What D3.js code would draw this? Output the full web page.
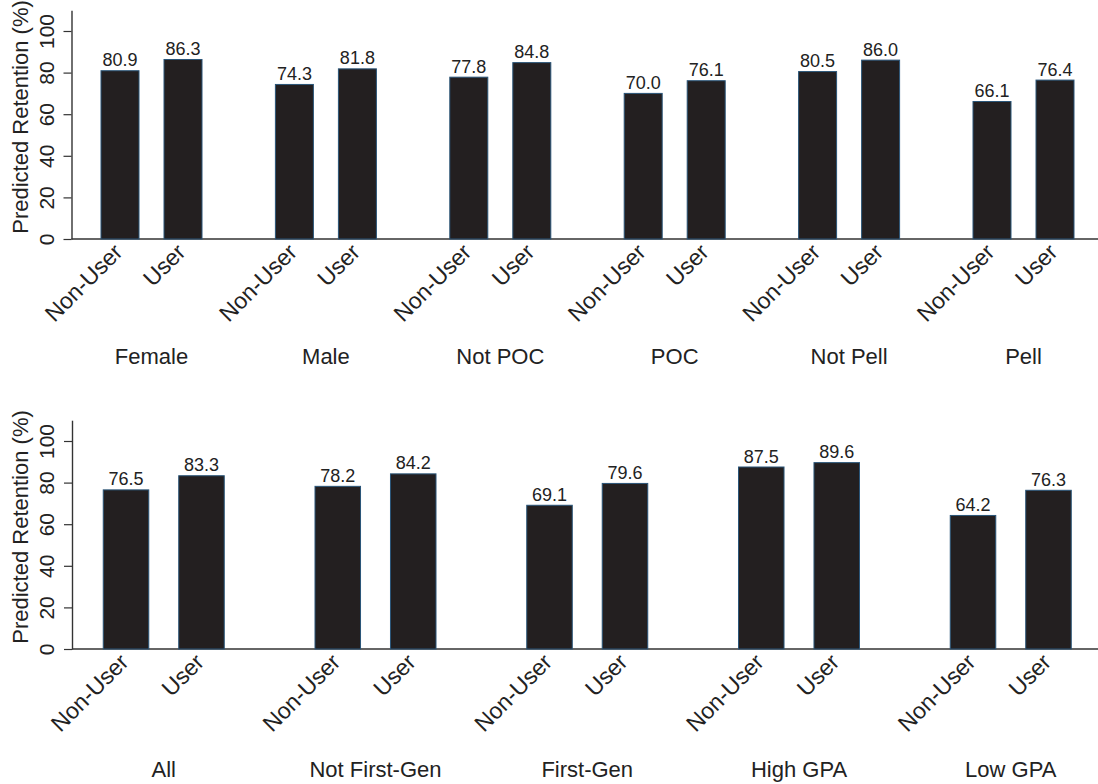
<!DOCTYPE html>
<html>
<head>
<meta charset="utf-8">
<script src="https://cdn.jsdelivr.net/npm/d3@7"></script>
<style>
  html, body { margin: 0; padding: 0; background: #fff; }
  svg { display: block; font-family: "Liberation Sans", Arial, Helvetica, sans-serif; }
</style>
</head>
<body>
<svg id="chart" width="1098" height="784"></svg>
<script>
// ---- data ----
const userTypes = ["Non-User", "User"];
const yTicks = [0, 20, 40, 60, 80, 100];

const topGroups = ["Female", "Male", "Not POC", "POC", "Not Pell", "Pell"];
const topNonUser = [80.9, 74.3, 77.8, 70.0, 80.5, 66.1];
const topUser = [86.3, 81.8, 84.8, 76.1, 86.0, 76.4];

const bottomGroups = ["All", "Not First-Gen", "First-Gen", "High GPA", "Low GPA"];
const bottomNonUser = [76.5, 78.2, 69.1, 87.5, 64.2];
const bottomUser = [83.3, 84.2, 79.6, 89.6, 76.3];

const yLabel = "Predicted Retention (%)";

// ---- drawing ----
const svg = d3.select("#chart");
const fmt = d3.format(".1f");
const W = 1098;

function panel(cfg) {
  const g = svg.append("g");
  const y = d3.scaleLinear().domain([0, 110]).range([cfg.y0, cfg.y0 - 110 * cfg.unit]);
  const gx = d3.scalePoint().domain(cfg.groups).range(cfg.groupRange);
  const bx = d3.scaleBand().domain(userTypes).range([-cfg.inner / 2, cfg.inner / 2]).paddingInner(0.397).paddingOuter(0);

  const rows = cfg.groups.map((grp, i) => ({
    group: grp,
    bars: [
      { type: "Non-User", value: cfg.nonUser[i] },
      { type: "User", value: cfg.user[i] }
    ]
  }));

  // x axis line
  g.append("line")
    .attr("x1", cfg.axisX).attr("x2", W)
    .attr("y1", y(0)).attr("y2", y(0))
    .attr("stroke", "#333").attr("stroke-width", 1.4);

  const grp = g.selectAll("g.grp").data(rows).join("g")
    .attr("class", "grp")
    .attr("transform", d => `translate(${gx(d.group)},0)`);

  grp.selectAll("rect").data(d => d.bars).join("rect")
    .attr("x", d => bx(d.type))
    .attr("width", bx.bandwidth())
    .attr("y", d => y(d.value))
    .attr("height", d => y(0) - y(d.value))
    .attr("fill", "#231f20")
    .attr("stroke", "#2a5578")
    .attr("stroke-width", 1);

  grp.selectAll("text.val").data(d => d.bars).join("text")
    .attr("class", "val")
    .attr("x", d => bx(d.type) + bx.bandwidth() / 2)
    .attr("y", d => y(d.value) - 4.5)
    .attr("text-anchor", "middle")
    .attr("font-size", 18)
    .attr("fill", "#222")
    .text(d => fmt(d.value));

  grp.selectAll("text.xt").data(d => d.bars).join("text")
    .attr("class", "xt")
    .attr("text-anchor", "end")
    .attr("font-size", 23)
    .attr("fill", "#222")
    .attr("transform", d => `translate(${bx(d.type) + bx.bandwidth() / 2 + 4},${y(0) + 14.5}) rotate(-45)`)
    .text(d => d.type);

  grp.append("text")
    .attr("class", "cat")
    .attr("x", 0)
    .attr("y", y(0) + cfg.catDy)
    .attr("text-anchor", "middle")
    .attr("font-size", 22)
    .attr("fill", "#222")
    .text(d => d.group);

  // y axis
  const axis = d3.axisLeft(y).tickValues(yTicks).tickSize(8).tickSizeOuter(0);
  const ag = g.append("g").attr("transform", `translate(${cfg.axisX},0)`).call(axis);
  ag.select(".domain").attr("stroke", "#333").attr("stroke-width", 1.4);
  ag.selectAll(".tick line").attr("stroke", "#333").attr("stroke-width", 1.2);
  ag.selectAll(".tick text")
    .attr("x", null).attr("dy", null)
    .attr("y", -18)
    .attr("transform", "rotate(-90)")
    .attr("text-anchor", "middle")
    .attr("font-size", 21)
    .attr("font-family", "Liberation Sans, Arial, sans-serif")
    .attr("fill", "#222");

  g.append("text")
    .attr("transform", `translate(28,${cfg.labelY}) rotate(-90)`)
    .attr("text-anchor", "middle")
    .attr("font-size", 22)
    .attr("fill", "#222")
    .text(yLabel);
}

panel({
  groups: topGroups, nonUser: topNonUser, user: topUser,
  y0: 239, unit: 2.08, axisX: 71.5,
  groupRange: [151.5, 1023.5], inner: 101,
  catDy: 125, labelY: 117
});

panel({
  groups: bottomGroups, nonUser: bottomNonUser, user: bottomUser,
  y0: 649, unit: 2.08, axisX: 72,
  groupRange: [163.75, 1010.75], inner: 121,
  catDy: 128, labelY: 527
});
</script>
</body>
</html>
